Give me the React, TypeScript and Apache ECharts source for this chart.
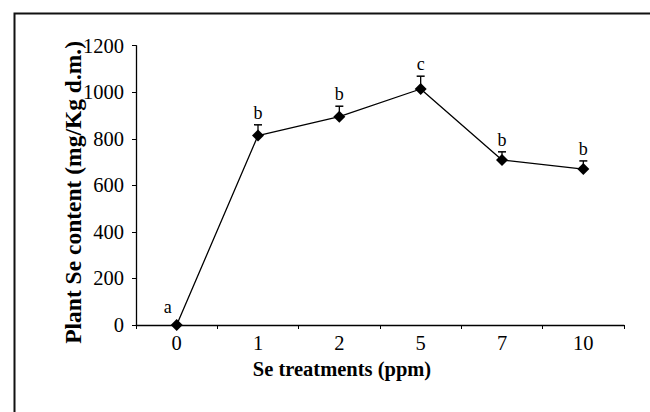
import React, { useEffect, useRef } from "react";
import * as echarts from "echarts";

const categories = ["0", "1", "2", "5", "7", "10"];
const values = [0, 814, 895, 1014, 709, 670];
const errors = [0, 46, 45, 55, 35, 35];
const letters = ["a", "b", "b", "c", "b", "b"];
const yTicks = { min: 0, max: 1200, interval: 200 };

const FONT = "'Liberation Serif', 'DejaVu Serif', serif";

export default function App() {
  const ref = useRef<HTMLDivElement>(null);
  useEffect(() => {
    document.body.style.margin = "0";
    const chart = echarts.init(ref.current!, null, { renderer: "svg" });
    const errData = values.map((v, i) => [i, v, errors[i], letters[i]]);
    chart.setOption({
      animation: false,
      backgroundColor: "#ffffff",
      graphic: [
        {
          type: "rect",
          left: 12,
          top: 11,
          shape: { x: 0, y: 0, width: 700, height: 500 },
          style: { fill: "none", stroke: "#111", lineWidth: 2 },
          silent: true,
        },
      ],
      grid: { left: 136, right: 26, top: 45.7, bottom: 87, containLabel: false },
      xAxis: {
        type: "category",
        data: categories,
        boundaryGap: true,
        name: "Se treatments (ppm)",
        nameLocation: "middle",
        nameGap: 33,
        nameMoveOverlap: false,
        nameTextStyle: {
          fontFamily: FONT,
          fontSize: 20.5,
          fontWeight: "bold",
          color: "#000",
          padding: [0, 76, 0, 0],
        },
        axisLine: { lineStyle: { color: "#000", width: 1.3 } },
        axisTick: { show: true, inside: false, length: 4, alignWithLabel: false, lineStyle: { color: "#000" } },
        axisLabel: { fontFamily: FONT, fontSize: 20.5, color: "#000", margin: 7 },
        splitLine: { show: false },
      },
      yAxis: {
        type: "value",
        min: yTicks.min,
        max: yTicks.max,
        interval: yTicks.interval,
        name: "Plant Se content (mg/Kg d.m.)",
        nameLocation: "middle",
        nameGap: 51,
        nameRotate: 90,
        nameMoveOverlap: false,
        nameTextStyle: {
          fontFamily: FONT,
          fontSize: 23.5,
          fontWeight: "bold",
          color: "#000",
          padding: [0, 14, 0, 0],
        },
        axisLine: { show: true, lineStyle: { color: "#000", width: 1.3 } },
        axisTick: { show: true, inside: false, length: 4, lineStyle: { color: "#000" } },
        axisLabel: { fontFamily: FONT, fontSize: 20.5, color: "#000", margin: 12, formatter: (v: number) => String(v) },
        splitLine: { show: false },
      },
      series: [
        {
          type: "line",
          data: values,
          symbol: "diamond",
          symbolSize: 12,
          itemStyle: { color: "#000" },
          lineStyle: { color: "#000", width: 1.3 },
          z: 3,
        },
        {
          type: "custom",
          data: errData,
          z: 2,
          renderItem: (params: any, api: any) => {
            const i = api.value(0);
            const v = api.value(1);
            const e = api.value(2);
            const letter = letters[params.dataIndex];
            const p = api.coord([i, v]);
            const t = api.coord([i, v + e]);
            const children: any[] = [];
            if (e > 0) {
              children.push({
                type: "line",
                shape: { x1: p[0], y1: p[1], x2: t[0], y2: t[1] },
                style: { stroke: "#000", lineWidth: 1.3 },
              });
              children.push({
                type: "line",
                shape: { x1: t[0] - 4, y1: t[1], x2: t[0] + 4, y2: t[1] },
                style: { stroke: "#000", lineWidth: 1.5 },
              });
            }
            const dx = e > 0 ? 0 : -9;
            const dy = e > 0 ? 3 : 9;
            children.push({
              type: "text",
              x: t[0] + dx,
              y: t[1] - dy,
              style: {
                text: letter,
                fontFamily: FONT,
                fontSize: 18,
                fill: "#000",
                align: "center",
                verticalAlign: "bottom",
              },
            });
            return { type: "group", children };
          },
        },
      ],
    });
    return () => chart.dispose();
  }, []);
  return <div ref={ref} style={{ width: 650, height: 412 }} />;
}
